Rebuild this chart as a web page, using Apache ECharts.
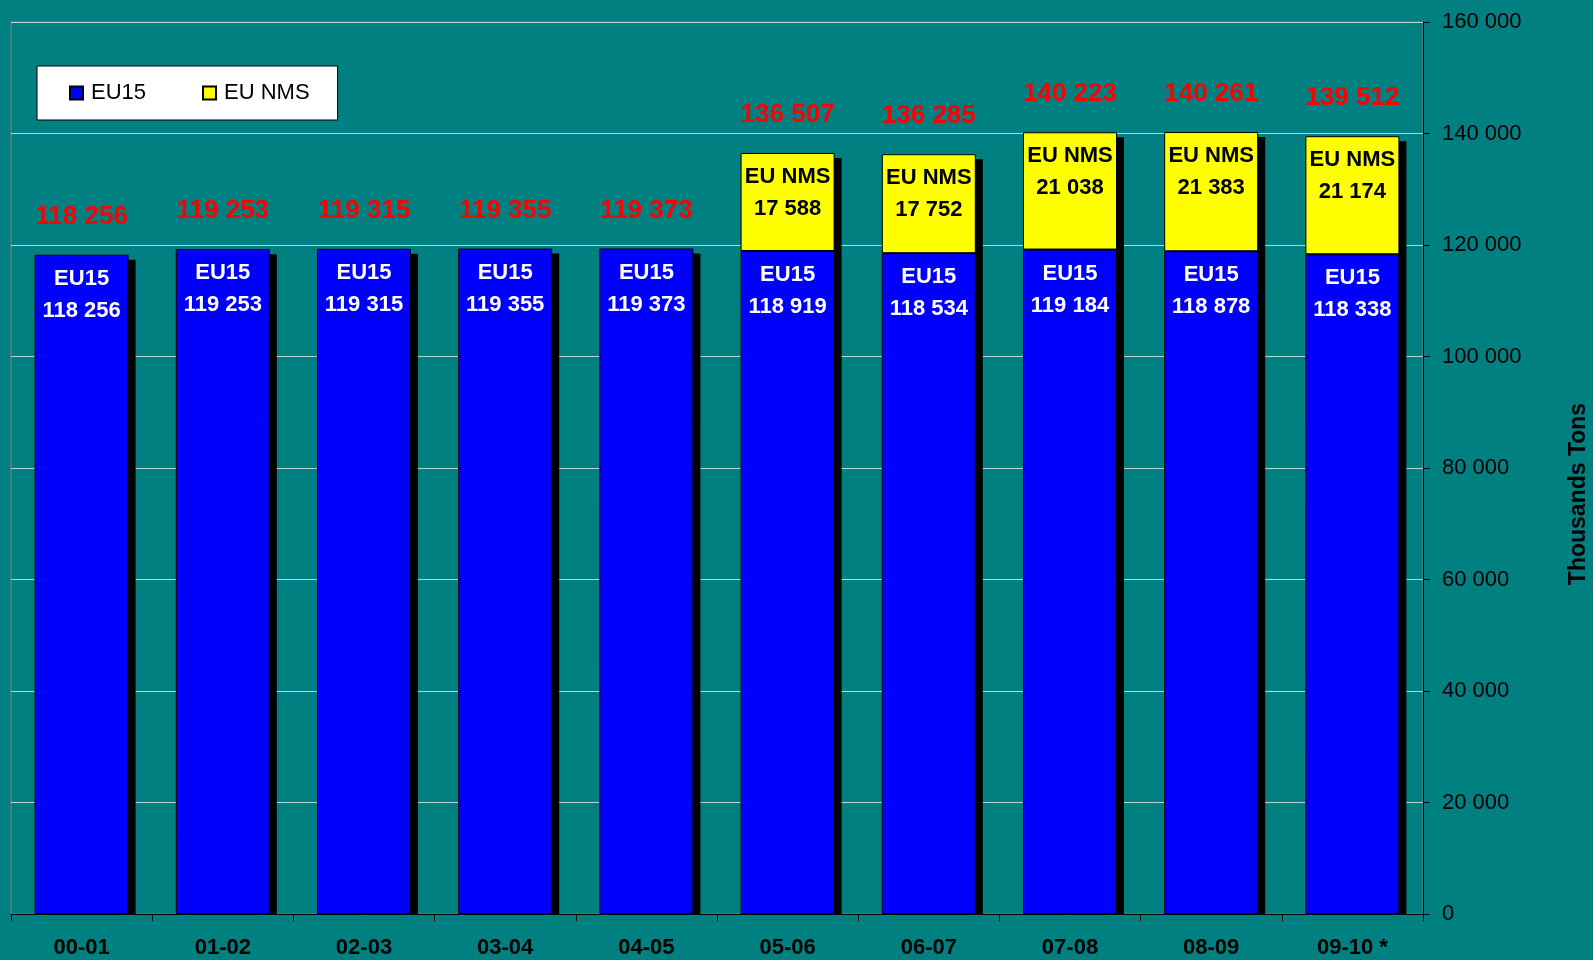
<!DOCTYPE html>
<html>
<head>
<meta charset="utf-8">
<script src="https://cdn.jsdelivr.net/npm/echarts@6/dist/echarts.min.js"></script>
<style>
html,body{margin:0;padding:0;background:#008080;}
#chart{width:1593px;height:960px;}
</style>
</head>
<body>
<div id="chart"></div>
<script>
const categories = ['00-01','01-02','02-03','03-04','04-05','05-06','06-07','07-08','08-09','09-10 *'];
const eu15 = [118256,119253,119315,119355,119373,118919,118534,119184,118878,118338];
const euNms = [null,null,null,null,null,17588,17752,21038,21383,21174];
const totals = [118256,119253,119315,119355,119373,136507,136285,140223,140261,139512];
const yTicks = { min: 0, max: 160000, interval: 20000 };

const FONT = "'Liberation Sans', Arial, sans-serif";
const fmt = v => String(v).replace(/\B(?=(\d{3})+(?!\d))/g, ' ');
const BAR_W = 94;

const chart = echarts.init(document.getElementById('chart'));
chart.setOption({
  backgroundColor: '#008080',
  animation: false,
  textStyle: { fontFamily: FONT },
  grid: { left: 11, right: 170, top: 22, bottom: 46, show: true, borderColor: '#808080', borderWidth: 1, backgroundColor: 'transparent' },
  legend: {
    data: ['EU15', 'EU NMS'],
    left: 37, top: 66,
    orient: 'horizontal',
    backgroundColor: '#ffffff',
    borderColor: '#000000',
    borderWidth: 1,
    padding: [16, 28, 16, 32],
    itemWidth: 13, itemHeight: 13,
    itemGap: 56,
    icon: 'rect',
    textStyle: { fontFamily: FONT, fontSize: 22, color: '#000', padding: [0, 0, 0, 3] }
  },
  xAxis: {
    type: 'category',
    data: categories,
    axisLine: { show: true, lineStyle: { color: '#000', width: 1 } },
    axisTick: { show: true, alignWithLabel: false, length: 7, lineStyle: { color: '#000' } },
    axisLabel: { fontFamily: FONT, fontSize: 22, fontWeight: 'bold', color: '#000', margin: 23 },
    splitLine: { show: false }
  },
  yAxis: {
    type: 'value',
    position: 'right',
    min: yTicks.min, max: yTicks.max, interval: yTicks.interval,
    axisLine: { show: true, lineStyle: { color: '#000', width: 1 } },
    axisTick: { show: true, inside: false, length: 7, lineStyle: { color: '#000' } },
    axisLabel: { fontFamily: FONT, fontSize: 22, color: '#000', margin: 19, formatter: v => fmt(v) },
    splitLine: { show: true, lineStyle: { color: '#b8d4d4', width: 1 } }
  },
  graphic: [{
    type: 'text',
    x: 1579, y: 494,
    rotation: Math.PI / 2,
    style: {
      text: 'Thousands Tons',
      font: "bold 23px 'Liberation Sans', Arial, sans-serif",
      fill: '#000',
      align: 'center',
      verticalAlign: 'middle'
    }
  }],
  series: [
    {
      name: 'shadow',
      type: 'custom',
      z: 1,
      silent: true,
      data: totals.map((v, i) => [i, v]),
      renderItem: (params, api) => {
        const i = api.value(0);
        const v = api.value(1);
        const p0 = api.coord([i, 0]);
        const p1 = api.coord([i, v]);
        return {
          type: 'group',
          children: [
            {
              type: 'rect',
              shape: { x: p0[0] - BAR_W / 2 + 7, y: p1[1] + 5, width: BAR_W, height: p0[1] - p1[1] - 5 },
              style: { fill: '#000' }
            },
            {
              type: 'text',
              x: p0[0], y: p1[1] - 25,
              style: {
                text: fmt(v),
                fill: '#ff0000',
                font: "bold 26px 'Liberation Sans', Arial, sans-serif",
                align: 'center',
                verticalAlign: 'bottom'
              }
            }
          ]
        };
      }
    },
    {
      name: 'EU15',
      type: 'bar',
      stack: 'total',
      barWidth: BAR_W,
      z: 3,
      data: eu15,
      itemStyle: { color: '#0000ff', borderColor: '#000', borderWidth: 1 },
      label: {
        show: true, position: 'insideTop', distance: 8,
        fontFamily: FONT, fontSize: 22, fontWeight: 'bold', color: '#ffffff', lineHeight: 32,
        formatter: p => 'EU15\n' + fmt(p.value)
      }
    },
    {
      name: 'EU NMS',
      type: 'bar',
      stack: 'total',
      barWidth: BAR_W,
      z: 3,
      data: euNms,
      itemStyle: { color: '#ffff00', borderColor: '#000', borderWidth: 1 },
      label: {
        show: true, position: 'insideTop', distance: 8,
        fontFamily: FONT, fontSize: 22, fontWeight: 'bold', color: '#000000', lineHeight: 32,
        formatter: p => p.value == null ? '' : 'EU NMS\n' + fmt(p.value)
      }
    }
  ]
});
</script>
</body>
</html>
